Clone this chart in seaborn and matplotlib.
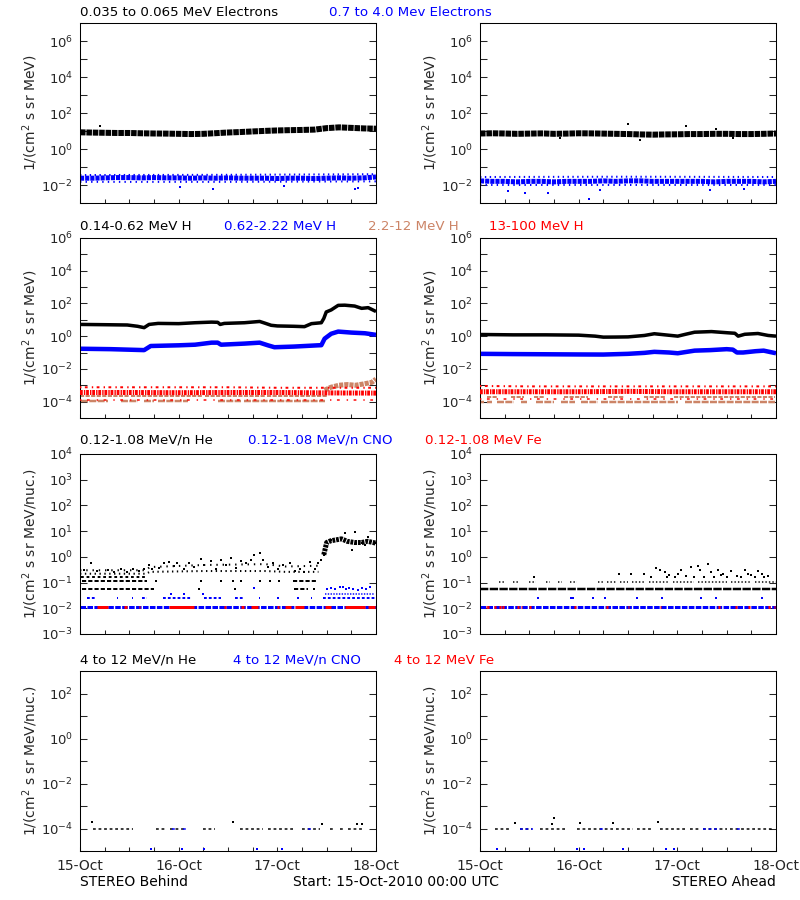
import numpy as np
import pandas as pd
import matplotlib
matplotlib.use("Agg")
import matplotlib.pyplot as plt
import seaborn as sns

sns.set_style("white")
plt.rcParams['font.family'] = ['DejaVu Sans']
plt.rcParams['font.size'] = 10
plt.rcParams['axes.linewidth'] = 0.75
plt.rcParams['lines.scale_dashes'] = False

BLACK = '#000000'; BLUE = '#0000FF'; SIENNA = '#CC8466'; RED = '#FF0000'

# ---------------- Row 1 : electrons (hours since 15-Oct 00:00) ----------------
E_T = [0, 3, 6, 9, 12, 15, 18, 21, 24, 27, 30, 33, 36, 39, 42, 45, 48, 51, 54, 57, 60, 63, 66, 69, 72]
EB_LOW = [8.5, 8.2, 8.0, 7.8, 7.8, 7.5, 7.3, 7.2, 7.0, 6.8, 7.0, 7.6, 8.3, 8.8, 9.5, 10.2, 10.8, 11.2, 11.5, 12.0, 14.5, 16.0, 15.0, 14.0, 13.5]
EB_HIGH = [0.024, 0.024, 0.025, 0.026, 0.026, 0.025, 0.026, 0.025, 0.025, 0.024, 0.025, 0.024, 0.025, 0.024, 0.024, 0.024, 0.023, 0.024, 0.024, 0.023, 0.024, 0.025, 0.024, 0.025, 0.028]
EA_LOW = [7.3, 7.5, 7.3, 7.0, 7.2, 7.4, 7.0, 7.2, 7.5, 7.4, 7.2, 7.0, 6.8, 6.5, 6.3, 6.5, 6.6, 6.8, 6.8, 7.0, 7.0, 6.8, 6.8, 7.0, 7.3]
EA_HIGH = [0.017, 0.016, 0.016, 0.015, 0.016, 0.016, 0.015, 0.016, 0.016, 0.016, 0.017, 0.016, 0.017, 0.017, 0.016, 0.016, 0.016, 0.016, 0.016, 0.015, 0.016, 0.016, 0.016, 0.015, 0.016]
ENV_T = [0, 36, 72]
EB_HIGH_UP = [0.036, 0.037, 0.040]
EB_HIGH_DN = [0.015, 0.015, 0.016]
EA_HIGH_UP = [0.028, 0.029, 0.028]
EA_HIGH_DN = [0.0105, 0.0105, 0.0105]
EB_LOW_OUT_T = [4.9]
EB_LOW_OUT_V = [20.0]
EB_HIGH_OUT_T = [24.3, 32.4, 49.5, 66.9, 67.7]
EB_HIGH_OUT_V = [0.0078, 0.006, 0.009, 0.006, 0.0068]
EA_LOW_OUT_T = [36.1, 50.1, 57.3, 19.5, 38.9, 61.6]
EA_LOW_OUT_V = [25.0, 20.0, 13.0, 4.0, 3.3, 4.0]
EA_HIGH_OUT_T = [6.9, 10.9, 16.6, 26.4, 29.2, 56.0, 64.1]
EA_HIGH_OUT_V = [0.0049, 0.0037, 0.0037, 0.0017, 0.0055, 0.005, 0.006]

# ---------------- Row 2 : protons ----------------
HB_K_T = [0, 6, 11.5, 14, 15.6, 16.8, 19, 24, 28, 32, 33.5, 34.1, 35.1, 40, 43.7, 44.9, 46.5, 48, 52, 54.6, 56.3, 58.7, 59.3, 59.9, 61.1, 62.8, 64.4, 66.8, 68.5, 70.1, 72]
HB_K_V = [5.2, 5.0, 4.8, 4.0, 3.3, 5.2, 6.0, 5.8, 6.6, 7.2, 7.0, 5.2, 6.0, 6.6, 7.9, 6.3, 4.6, 4.2, 4.0, 3.8, 5.8, 6.6, 12, 30, 40, 76, 78, 69, 50, 55, 32]
HB_B_T = [0, 7.5, 15.6, 17.2, 24, 28, 32, 33.5, 34.3, 40, 43.7, 45.7, 47.3, 52, 57.9, 58.7, 59.5, 61.1, 62.8, 66, 69.3, 72]
HB_B_V = [0.17, 0.16, 0.14, 0.25, 0.275, 0.3, 0.4, 0.4, 0.3, 0.35, 0.4, 0.275, 0.21, 0.23, 0.275, 0.28, 0.7, 1.4, 1.9, 1.65, 1.5, 1.2]
HA_K_T = [0, 8, 16, 24, 28, 30, 33, 36, 40, 42.4, 45, 48.1, 50, 52.2, 56.3, 60.3, 62, 62.8, 64.4, 67.6, 70.1, 72]
HA_K_V = [1.26, 1.2, 1.2, 1.15, 1.0, 0.87, 0.88, 0.9, 1.1, 1.4, 1.2, 1.0, 1.3, 1.74, 1.9, 1.6, 1.5, 1.0, 1.3, 1.45, 1.1, 1.0]
HA_B_T = [0, 8, 16, 24, 30, 36, 40, 42.4, 46, 48.1, 52.2, 56, 60, 61.5, 62.5, 64, 67, 69, 72]
HA_B_V = [0.083, 0.08, 0.078, 0.076, 0.075, 0.083, 0.095, 0.11, 0.1, 0.09, 0.13, 0.14, 0.16, 0.15, 0.1, 0.1, 0.12, 0.13, 0.09]
RED_T = [0, 12, 24, 36, 48, 60, 72]
HB_R_CORE = [3.6e-4, 3.6e-4, 3.5e-4, 3.6e-4, 3.6e-4, 3.4e-4, 3.3e-4]
HB_R_UP = [7.5e-4, 7.5e-4, 7.5e-4, 7.5e-4, 7.0e-4, 7.0e-4, 7.0e-4]
HB_R_DN = [1.3e-4, 1.3e-4, 1.3e-4, 1.3e-4, 1.3e-4, 1.3e-4, 1.3e-4]
HA_R_CORE = [4.0e-4, 4.0e-4, 4.0e-4, 4.2e-4, 4.0e-4, 4.0e-4, 4.0e-4]
HA_R_UP = [9.0e-4, 8.5e-4, 8.5e-4, 8.5e-4, 8.5e-4, 8.5e-4, 8.5e-4]
HA_R_DN = [1.4e-4, 1.4e-4, 1.4e-4, 1.4e-4, 1.4e-4, 1.4e-4, 1.4e-4]
HB_S_L1 = 2.2e-4
HB_S_L1_RUNS = [(0, 12), (12.5, 30), (30.5, 45), (45.5, 60)]
HB_S_L2 = 1.1e-4
HB_S_L2_RUNS = [(0.2, 6.7), (10, 14), (15.6, 18), (19, 26.2), (33.5, 39.2), (40, 59.5)]
HB_S_J_T = [59.5, 61, 63, 65, 67, 69, 71, 72]
HB_S_J_V = [5e-4, 7.5e-4, 1.0e-3, 1.1e-3, 1.0e-3, 1.2e-3, 1.5e-3, 2.4e-3]
HA_S_L1 = 1.8e-4
HA_S_L1_RUNS = [(1.8, 4.2), (7.5, 10.7), (13.2, 15.6), (20.5, 26.2), (31.1, 35.1), (40, 44.9), (47.3, 71.7)]
HA_S_L2 = 9e-5
HA_S_L2_RUNS = [(0, 1), (1.8, 3), (4.2, 8.3), (10, 11.5), (13.6, 18), (19.7, 23), (24.6, 28.6), (29.4, 48.1), (49.8, 71.7)]

# ---------------- Row 3 : 0.12-1.08 MeV/n ions ----------------
HEB_PT_T = [1, 2.6, 4.2, 6.7, 8.3, 9.9, 11.5, 12.8, 14.4, 15.6, 16.8, 17.6, 19.3, 20.5, 21.7, 22.9, 23.7, 25.4, 26.6, 27.8,
            29.4, 30.2, 31.9, 33.1, 34.3, 35.5, 36.7, 38, 39.2, 40.4, 41.6, 42.4, 43.7, 44.5, 45.7, 46.9, 48.1, 49.3, 51,
            52.2, 53.4, 54.6, 55.9, 57.1, 57.9, 58.7, 59.3, 59.9, 61.1, 62.4, 63.6, 64.4, 65.2, 66.2, 66.8, 67.2, 68.5,
            69.3, 70.1, 70.9, 71.7]
HEB_PT_V = [0.30, 0.58, 0.28, 0.30, 0.26, 0.33, 0.26, 0.35, 0.28, 0.35, 0.47, 0.33, 0.37, 0.55, 0.64, 0.45, 0.55, 0.35, 0.6, 0.41,
            0.86, 0.47, 0.68, 0.35, 0.74, 0.47, 0.91, 0.37, 0.68, 0.55, 0.74, 1.16, 1.35, 0.74, 0.41, 0.55, 0.35, 0.47, 0.55,
            0.28, 0.35, 0.26, 0.64, 0.35, 0.6, 0.74, 1.23, 3.8, 4.5, 4.9, 5.5, 8.1, 3.8, 1.8, 9.4, 3.3, 3.6,
            2.85, 6.0, 4.1, 3.3]
HEB_LO_T = [0, 16, 17, 30, 45, 50, 58]
HEB_LO_V = [0.22, 0.22, 0.26, 0.28, 0.28, 0.26, 0.26]
HEB_HI_V = [0.30, 0.30, 0.40, 0.48, 0.52, 0.42, 0.45]
HEB_J_T = [59.3, 60, 61, 62.4, 63.6, 65, 66.8, 68.5, 70, 72]
HEB_J_V = [1.2, 3.6, 4.2, 4.6, 5.0, 4.0, 3.6, 3.6, 4.0, 3.4]
HEB_L055_RUNS = [(0.6, 18), (52, 55.4)]
HEB_L055_PTS = [29, 37.6, 57]
HEB_L11_RUNS = [(0.6, 16.4), (51.8, 57.9)]
HEB_L11_PTS = [18.5, 29.4, 34.3, 37.2, 39.2, 43.7, 46.1, 48.5]
HEB_L17_RUNS = [(0.2, 16.4)]
CNOB_L011_RUNS = [(0, 72)]
CNOB_L024_RUNS = [(1.8, 3.8), (9, 9.3), (12.7, 13), (15.2, 16.4), (20.1, 27), (30.2, 34.3), (37.6, 40), (43.6, 43.9),
                  (48, 48.3), (52.9, 53.2), (56.2, 56.5), (59.1, 71.7)]
CNOB_L037_RUNS = [(59.5, 71.7)]
CNOB_PT_T = [22.1, 25.4, 29.8, 42.4, 60.2, 61, 62, 63.2, 64, 64.8, 65.5, 66.5, 67.5, 68.5, 69.5, 70.5]
CNOB_PT_V = [0.037, 0.037, 0.037, 0.062, 0.055, 0.06, 0.058, 0.065, 0.07, 0.058, 0.06, 0.055, 0.05, 0.06, 0.058, 0.065]
FEB_RUNS = [(4.2, 6.7), (10.7, 11.5), (14.3, 14.7), (21.7, 27.8), (35, 35.4), (39.2, 40), (41.6, 43.3), (48, 48.4),
            (49.8, 51.4), (52.2, 54.6), (59.5, 61.1), (64.4, 69.3), (70.1, 71.7)]
HEA_L055_RUNS = [(0, 72)]
HEA_L107_RUNS = [(4.6, 6), (8, 9.5), (12, 13.5), (16, 17), (19, 20), (22, 23.7), (28.6, 30), (31, 33), (34, 36), (37, 40),
                 (41, 46), (47, 52), (53, 60), (61, 66), (67, 72)]
HEA_PT_T = [13.2, 33.9, 36.7, 40, 42.8, 43.7, 44.9, 48.1, 48.9, 51.4, 53, 53.4, 55.4, 56.3, 57.9, 59.1, 61.1, 64.4, 65.2,
            67.6, 68.5, 46.0, 50.0, 58.5, 62.5, 66.0, 70.0, 41.5, 45.5, 47.5, 52.0, 54.5, 57.0, 60.0, 63.5, 66.8, 69.0]
HEA_PT_V = [0.165, 0.21, 0.22, 0.22, 0.36, 0.3, 0.26, 0.22, 0.32, 0.4, 0.43, 0.3, 0.54, 0.26, 0.32, 0.22, 0.27, 0.3, 0.22,
            0.27, 0.22, 0.19, 0.18, 0.19, 0.18, 0.19, 0.18, 0.17, 0.16, 0.17, 0.16, 0.17, 0.17, 0.16, 0.17, 0.16, 0.17]
CNOA_L011_RUNS = [(0, 72)]
CNOA_PT_T = [14, 22.1, 22.5, 27.4, 30.5, 38.2, 44.2, 53.7, 57.4, 68.7]
CNOA_PT_V = [0.024] * 10
FEA_T = [1.4, 1.8, 3.4, 4.6, 5.4, 9.1, 9.9, 12, 22.9, 30.7, 35.9, 43.7, 57.9, 62, 65.2, 70.1, 71.4]

# ---------------- Row 4 : 4-12 MeV/n ions ----------------
HE4B_RUNS = [(3.2, 13), (18.6, 21.1), (21.9, 25.9), (30, 32.8), (38.9, 44.6), (45.8, 51.9), (53.9, 58.4), (60.8, 61.6),
             (63.2, 64.1), (65.3, 68.9)]
HE4B_PT_T = [3, 37.3, 58.8, 67.3, 68.5]
HE4B_PT_V = [2e-4, 2e-4, 1.6e-4, 1.6e-4, 1.6e-4]
CNO4B_RUNS = [(22.3, 23.5), (25.1, 25.9), (55.5, 56.3)]
CNO4B_LOW_T = [17.3, 24.7, 30.2, 43, 49.1]
HE4A_RUNS = [(3.6, 7.3), (9.7, 12.6), (14.6, 21.1), (23.5, 32.4), (33.2, 37.3), (38.1, 42.2), (43.8, 50.3), (51.1, 53.5),
             (54.3, 60), (60.8, 71.3)]
HE4A_PT_T = [8.5, 17.4, 18, 24.3, 32.4, 43.2]
HE4A_PT_V = [1.7e-4, 1.6e-4, 3e-4, 1.7e-4, 1.7e-4, 2e-4]
CNO4A_RUNS = [(9.7, 13), (29.2, 30.4), (54.3, 58.4), (62.4, 63.2)]
CNO4A_LOW_T = [4.2, 23.5, 25.4, 34.9, 45.2, 47.1]
LEVEL4 = 1e-4
LOW4 = 1.2e-5

DAY_LABELS = ['15-Oct', '16-Oct', '17-Oct', '18-Oct']

# ---------------- helpers ----------------
PX = 0.72


def line(ax, t, v, color, px, ls='-', z=2):
    n = len(ax.lines)
    sns.lineplot(x=t, y=v, ax=ax, color=color, linewidth=px * PX, estimator=None, legend=False, zorder=z)
    for ln in ax.lines[n:]:
        ln.set_linestyle(ls)
        ln.set_solid_capstyle('butt')


def runs(ax, level, segs, color, px, ls='-', z=2):
    rows = []
    for i, (a, b) in enumerate(segs):
        rows.append((i, a, level))
        rows.append((i, b, level))
    df = pd.DataFrame(rows, columns=['u', 't', 'v'])
    n = len(ax.lines)
    sns.lineplot(data=df, x='t', y='v', units='u', estimator=None, color=color, linewidth=px * PX,
                 legend=False, ax=ax, zorder=z)
    for ln in ax.lines[n:]:
        ln.set_linestyle(ls)
        ln.set_solid_capstyle('butt')


def dots(ax, t, v, color, px, z=3):
    sns.scatterplot(x=t, y=v, ax=ax, color=color, marker='s', s=(px * PX) ** 2, linewidth=0,
                    legend=False, zorder=z)


fig = plt.figure(figsize=(8, 9), dpi=100)
col_x = [0.1, 0.6]
row_b = [0.7744, 0.5356, 0.2956, 0.0544]
W, H = 0.37, 0.2
ylims = [(1e-3, 1e7), (1e-5, 1e6), (1e-3, 1e4), (1e-5, 1e3)]
ymaj = [range(-2, 7, 2), range(-4, 7, 2), range(-3, 5), range(-4, 3, 2)]
ymin = [range(-3, 8), range(-5, 7), range(-3, 5), range(-5, 4)]
ylabels = ['1/(cm$^2$ s sr MeV)', '1/(cm$^2$ s sr MeV)', '1/(cm$^2$ s sr MeV/nuc.)', '1/(cm$^2$ s sr MeV/nuc.)']

axes = [[None, None] for _ in range(4)]
for r in range(4):
    for c in range(2):
        ax = fig.add_axes([col_x[c], row_b[r], W, H])
        ax.set_yscale('log')
        ax.set_xlim(0, 72)
        ax.set_ylim(*ylims[r])
        axes[r][c] = ax

# Row 1
a = axes[0][0]
line(a, E_T, EB_LOW, BLACK, 6, (0, (4, 0.6)))
line(a, ENV_T, EB_HIGH_UP, BLUE, 2, (0, (1, 2.5)))
line(a, ENV_T, EB_HIGH_DN, BLUE, 2, (0, (1, 3)))
line(a, E_T, EB_HIGH, BLUE, 5, (0, (3, 0.7)))
dots(a, EB_LOW_OUT_T, EB_LOW_OUT_V, BLACK, 2.5)
dots(a, EB_HIGH_OUT_T, EB_HIGH_OUT_V, BLUE, 2.5)
a = axes[0][1]
line(a, E_T, EA_LOW, BLACK, 6, (0, (4, 0.6)))
line(a, ENV_T, EA_HIGH_UP, BLUE, 2, (0, (1, 2.5)))
line(a, ENV_T, EA_HIGH_DN, BLUE, 2, (0, (1, 3)))
line(a, E_T, EA_HIGH, BLUE, 5, (0, (3, 0.7)))
dots(a, EA_LOW_OUT_T, EA_LOW_OUT_V, BLACK, 2.5)
dots(a, EA_HIGH_OUT_T, EA_HIGH_OUT_V, BLUE, 2.5)

# Row 2
for c, (kt, kv, bt, bv, s1, s1r, s2, s2r, rc, ru, rd) in enumerate([
        (HB_K_T, HB_K_V, HB_B_T, HB_B_V, HB_S_L1, HB_S_L1_RUNS, HB_S_L2, HB_S_L2_RUNS, HB_R_CORE, HB_R_UP, HB_R_DN),
        (HA_K_T, HA_K_V, HA_B_T, HA_B_V, HA_S_L1, HA_S_L1_RUNS, HA_S_L2, HA_S_L2_RUNS, HA_R_CORE, HA_R_UP, HA_R_DN)]):
    a = axes[1][c]
    line(a, kt, kv, BLACK, 3.5)
    line(a, bt, bv, BLUE, 4.5)
    runs(a, s1, s1r, SIENNA, 2, (0, (3, 1)))
    runs(a, s2, s2r, SIENNA, 2.5, (0, (5, 1)))
    if c == 0:
        line(a, HB_S_J_T, HB_S_J_V, SIENNA, 5, (0, (3, 0.7)))
    line(a, RED_T, ru, RED, 2, (0, (1, 2.5, 2, 3)), z=3)
    line(a, RED_T, rd, RED, 1.5, (0, (1, 4, 2, 5)), z=3)
    line(a, RED_T, rc, RED, 5, (0, (2, 0.8, 1, 0.6)), z=3)

# Row 3 left
a = axes[2][0]
line(a, HEB_LO_T, HEB_LO_V, BLACK, 2, (0, (1, 2.5)))
line(a, HEB_LO_T, HEB_HI_V, BLACK, 2, (0, (1, 3.5)))
line(a, HEB_J_T, HEB_J_V, BLACK, 5, (0, (2, 0.7)))
dots(a, HEB_PT_T, HEB_PT_V, BLACK, 2.5)
runs(a, 0.055, HEB_L055_RUNS, BLACK, 2, (0, (3, 1.5)))
dots(a, HEB_L055_PTS, [0.055] * len(HEB_L055_PTS), BLACK, 2)
runs(a, 0.112, HEB_L11_RUNS, BLACK, 2, (0, (3, 1.5)))
dots(a, HEB_L11_PTS, [0.112] * len(HEB_L11_PTS), BLACK, 2)
runs(a, 0.166, HEB_L17_RUNS, BLACK, 2, (0, (2, 2)))
runs(a, 0.0112, CNOB_L011_RUNS, BLUE, 3, (0, (4, 1)))
runs(a, 0.024, CNOB_L024_RUNS, BLUE, 2, (0, (2, 1.5)))
runs(a, 0.037, CNOB_L037_RUNS, BLUE, 1.5, (0, (1, 1)))
dots(a, CNOB_PT_T, CNOB_PT_V, BLUE, 2.5)
runs(a, 0.0112, FEB_RUNS, RED, 3, '-', z=3)

# Row 3 right
a = axes[2][1]
runs(a, 0.055, HEA_L055_RUNS, BLACK, 2.5, (0, (6, 1)))
runs(a, 0.107, HEA_L107_RUNS, BLACK, 1.5, (0, (1, 1.5)))
dots(a, HEA_PT_T, HEA_PT_V, BLACK, 2.5)
runs(a, 0.0115, CNOA_L011_RUNS, BLUE, 3, (0, (4, 1)))
dots(a, CNOA_PT_T, CNOA_PT_V, BLUE, 2.5)
runs(a, 0.0115, [(t, t + 0.4) for t in FEA_T], RED, 3, '-', z=3)

# Row 4
a = axes[3][0]
runs(a, LEVEL4, HE4B_RUNS, BLACK, 1.5, (0, (2, 2)))
dots(a, HE4B_PT_T, HE4B_PT_V, BLACK, 2.5)
runs(a, LEVEL4, CNO4B_RUNS, BLUE, 1.5, (0, (2, 2)), z=3)
dots(a, CNO4B_LOW_T, [LOW4] * len(CNO4B_LOW_T), BLUE, 2.5)
a = axes[3][1]
runs(a, LEVEL4, HE4A_RUNS, BLACK, 1.5, (0, (2, 2)))
dots(a, HE4A_PT_T, HE4A_PT_V, BLACK, 2.5)
runs(a, LEVEL4, CNO4A_RUNS, BLUE, 1.5, (0, (2, 2)), z=3)
dots(a, CNO4A_LOW_T, [LOW4] * len(CNO4A_LOW_T), BLUE, 2.5)

# Axes styling
for r in range(4):
    for c in range(2):
        ax = axes[r][c]
        ax.set_yticks([10.0 ** k for k in ymaj[r]])
        ax.set_yticks([10.0 ** k for k in ymin[r]], minor=True)
        ax.yaxis.set_minor_formatter(matplotlib.ticker.NullFormatter())
        ax.tick_params(axis='y', which='both', direction='in', left=True, right=True, length=5,
                       width=0.75, labelsize=9.5, pad=5)
        ax.set_xticks(list(range(0, 73, 6)))
        if r == 3:
            ax.set_xticklabels([DAY_LABELS[i // 24] if i % 24 == 0 else '' for i in range(0, 73, 6)])
        else:
            ax.set_xticklabels([])
        ax.tick_params(axis='x', which='both', direction='in', bottom=True, top=False, length=3,
                       width=0.75, labelsize=10, pad=6)
        ax.set_xlabel('')
        ax.set_ylabel(ylabels[r], fontsize=10)
        ax.yaxis.set_label_coords(-0.135, 0.5)
        for sp in ax.spines.values():
            sp.set_visible(True)
            sp.set_color('black')
            sp.set_linewidth(0.75)


def ftext(xpx, ypx, s, color, ha='left', fs=9.6):
    fig.text(xpx / 800, 1 - ypx / 900, s, color=color, ha=ha, va='center', fontsize=fs)


ftext(80, 12, '0.035 to 0.065 MeV Electrons', BLACK)
ftext(329, 12, '0.7 to 4.0 Mev Electrons', BLUE)
ftext(80, 226, '0.14-0.62 MeV H', BLACK)
ftext(224, 226, '0.62-2.22 MeV H', BLUE)
ftext(368, 226, '2.2-12 MeV H', SIENNA)
ftext(489, 226, '13-100 MeV H', RED)
ftext(80, 440, '0.12-1.08 MeV/n He', BLACK)
ftext(248, 440, '0.12-1.08 MeV/n CNO', BLUE)
ftext(425, 440, '0.12-1.08 MeV Fe', RED)
ftext(80, 660, '4 to 12 MeV/n He', BLACK)
ftext(233, 660, '4 to 12 MeV/n CNO', BLUE)
ftext(394, 660, '4 to 12 MeV Fe', RED)
ftext(80, 882, 'STEREO Behind', BLACK, fs=10)
ftext(293, 882, 'Start: 15-Oct-2010 00:00 UTC', BLACK, fs=10)
ftext(776, 882, 'STEREO Ahead', BLACK, ha='right', fs=10)

fig.savefig('out.png', dpi=100, facecolor='white')
